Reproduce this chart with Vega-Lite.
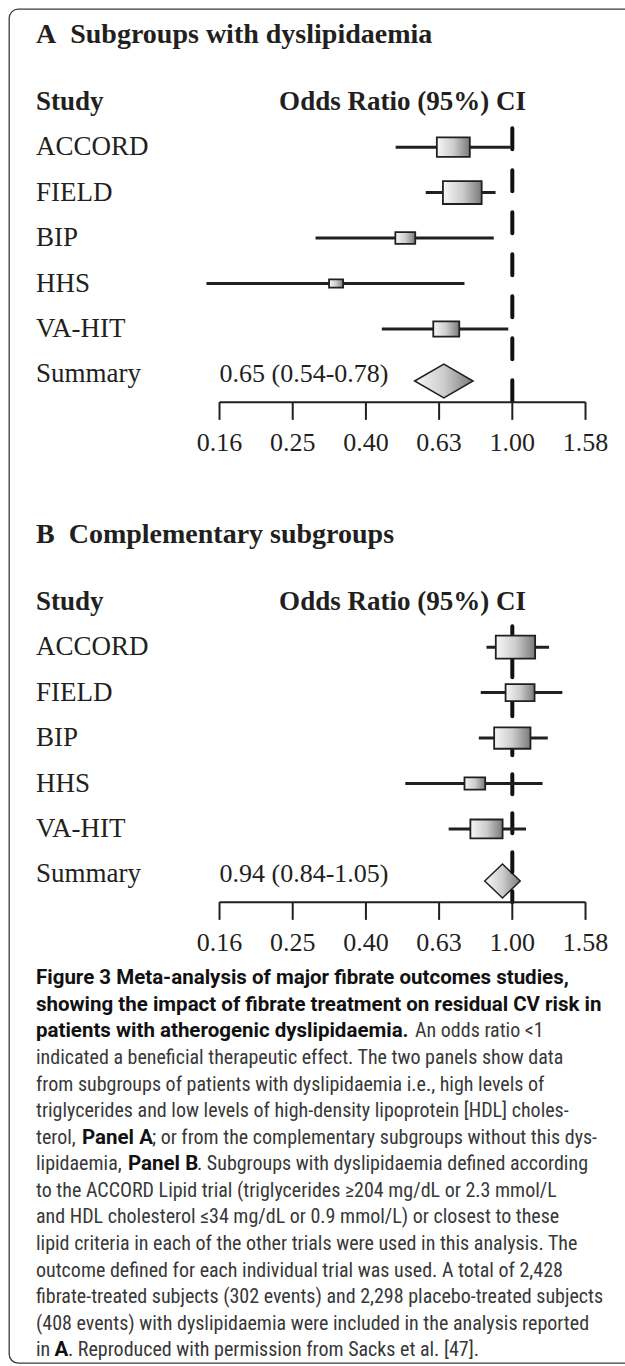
{
  "$schema": "https://vega.github.io/schema/vega-lite/v6.json",
  "width": 626,
  "height": 1354,
  "autosize": {"type": "none"},
  "padding": {"left": 9, "top": 9, "right": -10, "bottom": 3},
  "background": "white",
  "config": {
    "view": {"stroke": "#3a3a3a", "strokeWidth": 1.3, "cornerRadius": 9, "fill": "white"},
    "font": "Liberation Serif"
  },
  "datasets": {
    "forest": [
      {"panel": "A", "slot": "A-ACCORD", "study": "ACCORD", "or": 0.69, "lo": 0.48, "hi": 0.99, "weight": 66},
      {"panel": "A", "slot": "A-FIELD", "study": "FIELD", "or": 0.73, "lo": 0.58, "hi": 0.90, "weight": 91},
      {"panel": "A", "slot": "A-BIP", "study": "BIP", "or": 0.51, "lo": 0.29, "hi": 0.89, "weight": 24},
      {"panel": "A", "slot": "A-HHS", "study": "HHS", "or": 0.33, "lo": 0.146, "hi": 0.74, "weight": 12},
      {"panel": "A", "slot": "A-VA-HIT", "study": "VA-HIT", "or": 0.66, "lo": 0.44, "hi": 0.975, "weight": 41},
      {"panel": "A", "slot": "A-Summary", "study": "Summary", "or": 0.65, "lo": 0.54, "hi": 0.78, "summary": "0.65 (0.54-0.78)"},
      {"panel": "B", "slot": "B-ACCORD", "study": "ACCORD", "or": 1.02, "lo": 0.85, "hi": 1.26, "weight": 94},
      {"panel": "B", "slot": "B-FIELD", "study": "FIELD", "or": 1.05, "lo": 0.82, "hi": 1.37, "weight": 51},
      {"panel": "B", "slot": "B-BIP", "study": "BIP", "or": 1.0, "lo": 0.81, "hi": 1.25, "weight": 80},
      {"panel": "B", "slot": "B-HHS", "study": "HHS", "or": 0.79, "lo": 0.51, "hi": 1.21, "weight": 26},
      {"panel": "B", "slot": "B-VA-HIT", "study": "VA-HIT", "or": 0.85, "lo": 0.67, "hi": 1.09, "weight": 63},
      {"panel": "B", "slot": "B-Summary", "study": "Summary", "or": 0.94, "lo": 0.84, "hi": 1.05, "summary": "0.94 (0.84-1.05)"}
    ],
    "refs": [
      {"panel": "A", "ref": 1, "from": "A-ACCORD", "to": "A-axis"},
      {"panel": "B", "ref": 1, "from": "B-ACCORD", "to": "B-axis"}
    ],
    "heads": [
      {"panel": "A", "slot": "A-title", "role": "title", "text": "A\u00a0 Subgroups with dyslipidaemia"},
      {"panel": "A", "slot": "A-header", "role": "left", "text": "Study"},
      {"panel": "A", "slot": "A-header", "role": "center", "text": "Odds Ratio (95%) CI"},
      {"panel": "B", "slot": "B-title", "role": "title", "text": "B\u00a0 Complementary subgroups"},
      {"panel": "B", "slot": "B-header", "role": "left", "text": "Study"},
      {"panel": "B", "slot": "B-header", "role": "center", "text": "Odds Ratio (95%) CI"}
    ],
    "ticks": [
      {"panel": "A", "slot": "A-axis", "lab": "A-ticks", "v": 0.158489},
      {"panel": "A", "slot": "A-axis", "lab": "A-ticks", "v": 0.251189},
      {"panel": "A", "slot": "A-axis", "lab": "A-ticks", "v": 0.398107},
      {"panel": "A", "slot": "A-axis", "lab": "A-ticks", "v": 0.630957},
      {"panel": "A", "slot": "A-axis", "lab": "A-ticks", "v": 1.0},
      {"panel": "A", "slot": "A-axis", "lab": "A-ticks", "v": 1.584893},
      {"panel": "B", "slot": "B-axis", "lab": "B-ticks", "v": 0.158489},
      {"panel": "B", "slot": "B-axis", "lab": "B-ticks", "v": 0.251189},
      {"panel": "B", "slot": "B-axis", "lab": "B-ticks", "v": 0.398107},
      {"panel": "B", "slot": "B-axis", "lab": "B-ticks", "v": 0.630957},
      {"panel": "B", "slot": "B-axis", "lab": "B-ticks", "v": 1.0},
      {"panel": "B", "slot": "B-axis", "lab": "B-ticks", "v": 1.584893}
    ],
    "caption": [
      {"line": 1, "seg": 1, "w": "b", "text": "Figure 3 Meta-analysis of major fibrate outcomes studies,"},
      {"line": 2, "seg": 1, "w": "b", "text": "showing the impact of fibrate treatment on residual CV risk in"},
      {"line": 3, "seg": 1, "w": "b", "text": "patients with atherogenic dyslipidaemia."},
      {"line": 3, "seg": 2, "w": "n", "text": "An odds ratio <1"},
      {"line": 4, "seg": 1, "w": "n", "text": "indicated a beneficial therapeutic effect. The two panels show data"},
      {"line": 5, "seg": 1, "w": "n", "text": "from subgroups of patients with dyslipidaemia i.e., high levels of"},
      {"line": 6, "seg": 1, "w": "n", "text": "triglycerides and low levels of high-density lipoprotein [HDL] choles-"},
      {"line": 7, "seg": 1, "w": "n", "text": "terol,"},
      {"line": 7, "seg": 2, "w": "b", "text": "Panel A"},
      {"line": 7, "seg": 3, "w": "n", "text": "; or from the complementary subgroups without this dys-"},
      {"line": 8, "seg": 1, "w": "n", "text": "lipidaemia,"},
      {"line": 8, "seg": 2, "w": "b", "text": "Panel B"},
      {"line": 8, "seg": 3, "w": "n", "text": ". Subgroups with dyslipidaemia defined according"},
      {"line": 9, "seg": 1, "w": "n", "text": "to the ACCORD Lipid trial (triglycerides \u2265204 mg/dL or 2.3 mmol/L"},
      {"line": 10, "seg": 1, "w": "n", "text": "and HDL cholesterol \u226434 mg/dL or 0.9 mmol/L) or closest to these"},
      {"line": 11, "seg": 1, "w": "n", "text": "lipid criteria in each of the other trials were used in this analysis. The"},
      {"line": 12, "seg": 1, "w": "n", "text": "outcome defined for each individual trial was used. A total of 2,428"},
      {"line": 13, "seg": 1, "w": "n", "text": "fibrate-treated subjects (302 events) and 2,298 placebo-treated subjects"},
      {"line": 14, "seg": 1, "w": "n", "text": "(408 events) with dyslipidaemia were included in the analysis reported"},
      {"line": 15, "seg": 1, "w": "n", "text": "in"},
      {"line": 15, "seg": 2, "w": "b", "text": "A"},
      {"line": 15, "seg": 3, "w": "n", "text": ". Reproduced with permission from Sacks et al. [47]."}
    ]
  },
  "resolve": {"scale": {"y": "independent"}},
  "layer": [
    {
      "layer": [
        {
          "data": {"name": "forest"},
          "transform": [{"filter": "datum.panel == 'A' && isValid(datum.summary)"}],
          "mark": {"type": "point", "shape": "M-1,0L0,-0.582L1,0L0,0.582Z", "size": 3411, "filled": true, "opacity": 1,
            "fill": {"gradient": "linear", "x1": 0, "y1": 0, "x2": 1, "y2": 0, "stops": [{"offset": 0, "color": "#f7f7f7"}, {"offset": 0.5, "color": "#cdcdcd"}, {"offset": 1, "color": "#7a7a7a"}]},
            "stroke": "#231f20", "strokeWidth": 1.5},
          "encoding": {
            "x": {"field": "or", "type": "quantitative", "scale": {"type": "log", "domain": [0.04215, 2.1638], "nice": false, "zero": false}, "axis": null},
            "y": {"field": "slot", "type": "nominal", "bandPosition": 0.645, "axis": null,
              "scale": {"type": "band", "domain": ["A-title", "A-header", "A-ACCORD", "A-FIELD", "A-BIP", "A-HHS", "A-VA-HIT", "A-Summary", "A-axis", "A-ticks", "gap", "B-title", "B-header", "B-ACCORD", "B-FIELD", "B-BIP", "B-HHS", "B-VA-HIT", "B-Summary", "B-axis", "B-ticks"], "range": [24.5, 979.05], "paddingInner": 0, "paddingOuter": 0}}
          }
        },
        {
          "data": {"name": "forest"},
          "transform": [{"filter": "datum.panel == 'B' && isValid(datum.summary)"}],
          "mark": {"type": "point", "shape": "M-1,0L0,-0.958L1,0L0,0.958Z", "size": 1260, "filled": true, "opacity": 1,
            "fill": {"gradient": "linear", "x1": 0, "y1": 0, "x2": 1, "y2": 0, "stops": [{"offset": 0, "color": "#f7f7f7"}, {"offset": 0.5, "color": "#cdcdcd"}, {"offset": 1, "color": "#7a7a7a"}]},
            "stroke": "#231f20", "strokeWidth": 1.5},
          "encoding": {
            "x": {"field": "or", "type": "quantitative", "axis": null},
            "y": {"field": "slot", "type": "nominal", "bandPosition": 0.645, "axis": null}
          }
        },
        {
          "data": {"name": "refs"},
          "transform": [{"filter": "datum.panel == 'A'"}],
          "mark": {"type": "rule", "color": "#111111", "strokeWidth": 4, "strokeDash": [21, 21], "strokeDashOffset": 40, "strokeCap": "round"},
          "encoding": {
            "x": {"field": "ref", "type": "quantitative", "axis": null},
            "y": {"field": "from", "type": "nominal", "bandPosition": 0.04, "axis": null},
            "y2": {"field": "to", "bandPosition": 0.11}
          }
        },
        {
          "data": {"name": "refs"},
          "transform": [{"filter": "datum.panel == 'B'"}],
          "mark": {"type": "rule", "color": "#111111", "strokeWidth": 4, "strokeDash": [20, 19], "strokeDashOffset": 8, "strokeCap": "round"},
          "encoding": {
            "x": {"field": "ref", "type": "quantitative", "axis": null},
            "y": {"field": "from", "type": "nominal", "bandPosition": 0.04, "axis": null},
            "y2": {"field": "to", "bandPosition": 0.11}
          }
        },
        {
          "data": {"name": "forest"},
          "transform": [{"filter": "isValid(datum.weight)"}],
          "mark": {"type": "rule", "color": "#231f20", "strokeWidth": 3},
          "encoding": {
            "x": {"field": "lo", "type": "quantitative", "axis": null},
            "x2": {"field": "hi"},
            "y": {"field": "slot", "type": "nominal", "bandPosition": 0.5, "axis": null}
          }
        },
        {
          "data": {"name": "forest"},
          "transform": [{"filter": "isValid(datum.weight)"}],
          "mark": {"type": "point", "shape": "M-1.7,-1L1.7,-1L1.7,1L-1.7,1Z", "filled": true, "opacity": 1,
            "fill": {"gradient": "linear", "x1": 0, "y1": 0, "x2": 1, "y2": 0, "stops": [{"offset": 0, "color": "#f7f7f7"}, {"offset": 0.5, "color": "#cdcdcd"}, {"offset": 1, "color": "#7a7a7a"}]},
            "stroke": "#231f20", "strokeWidth": 1.8},
          "encoding": {
            "x": {"field": "or", "type": "quantitative", "axis": null},
            "y": {"field": "slot", "type": "nominal", "bandPosition": 0.5, "axis": null},
            "size": {"field": "weight", "type": "quantitative", "scale": {"domain": [0, 100], "range": [0, 570], "zero": true}, "legend": null}
          }
        },
        {
          "data": {"name": "forest"},
          "mark": {"type": "text", "align": "left", "baseline": "middle", "font": "Liberation Serif", "fontSize": 27, "color": "#231f20"},
          "encoding": {
            "x": {"datum": 0.04995, "type": "quantitative", "axis": null},
            "y": {"field": "slot", "type": "nominal", "bandPosition": 0.5, "axis": null},
            "text": {"field": "study"}
          }
        },
        {
          "data": {"name": "forest"},
          "transform": [{"filter": "isValid(datum.summary)"}],
          "mark": {"type": "text", "align": "left", "baseline": "middle", "font": "Liberation Serif", "fontSize": 26, "color": "#231f20"},
          "encoding": {
            "x": {"datum": 0.158489, "type": "quantitative", "axis": null},
            "y": {"field": "slot", "type": "nominal", "bandPosition": 0.5, "axis": null},
            "text": {"field": "summary"}
          }
        },
        {
          "data": {"name": "ticks"},
          "mark": {"type": "rule", "color": "#231f20", "strokeWidth": 2},
          "encoding": {
            "x": {"aggregate": "min", "field": "v", "type": "quantitative", "axis": null},
            "x2": {"aggregate": "max", "field": "v"},
            "y": {"field": "slot", "type": "nominal", "bandPosition": 0.11, "axis": null}
          }
        },
        {
          "data": {"name": "ticks"},
          "mark": {"type": "rule", "color": "#231f20", "strokeWidth": 2},
          "encoding": {
            "x": {"field": "v", "type": "quantitative", "axis": null},
            "y": {"field": "slot", "type": "nominal", "bandPosition": 0.11, "axis": null},
            "y2": {"field": "slot", "bandPosition": 0.5}
          }
        },
        {
          "data": {"name": "ticks"},
          "mark": {"type": "text", "align": "center", "baseline": "middle", "font": "Liberation Serif", "fontSize": 26, "color": "#231f20"},
          "encoding": {
            "x": {"field": "v", "type": "quantitative", "axis": null},
            "y": {"field": "lab", "type": "nominal", "bandPosition": 0, "axis": null},
            "text": {"field": "v", "type": "quantitative", "format": ".2f"}
          }
        },
        {
          "data": {"name": "heads"},
          "transform": [{"filter": "datum.role == 'title'"}],
          "mark": {"type": "text", "align": "left", "baseline": "middle", "font": "Liberation Serif", "fontSize": 28, "fontWeight": "bold", "color": "#231f20"},
          "encoding": {
            "x": {"datum": 0.04995, "type": "quantitative", "axis": null},
            "y": {"field": "slot", "type": "nominal", "bandPosition": 0.03, "axis": null},
            "text": {"field": "text"}
          }
        },
        {
          "data": {"name": "heads"},
          "transform": [{"filter": "datum.role == 'left'"}],
          "mark": {"type": "text", "align": "left", "baseline": "middle", "font": "Liberation Serif", "fontSize": 27, "fontWeight": "bold", "color": "#231f20"},
          "encoding": {
            "x": {"datum": 0.04995, "type": "quantitative", "axis": null},
            "y": {"field": "slot", "type": "nominal", "bandPosition": 0.5, "axis": null},
            "text": {"field": "text"}
          }
        },
        {
          "data": {"name": "heads"},
          "transform": [{"filter": "datum.role == 'center'"}],
          "mark": {"type": "text", "align": "center", "baseline": "middle", "font": "Liberation Serif", "fontSize": 27, "fontWeight": "bold", "color": "#231f20"},
          "encoding": {
            "x": {"datum": 0.501187, "type": "quantitative", "axis": null},
            "y": {"field": "slot", "type": "nominal", "bandPosition": 0.5, "axis": null},
            "text": {"field": "text"}
          }
        }
      ]
    },
    {
      "data": {"name": "caption"},
      "layer": [
        {
          "transform": [{"filter": "datum.w == 'n'"}],
          "mark": {"type": "text", "align": "left", "baseline": "middle", "font": "Roboto Condensed, Lato, sans-serif", "fontSize": 20, "color": "#383838",
            "dx": {"expr": "datum.seg == 1 ? 0 : datum.line == 3 ? 379 : datum.line == 7 ? 116 : datum.line == 8 ? 161 : datum.line == 15 ? 32 : 0"}},
          "encoding": {
            "x": {"datum": 0.04995, "type": "quantitative", "axis": null},
            "y": {"field": "line", "type": "ordinal", "axis": null,
              "scale": {"type": "band", "domain": [1, 2, 3, 4, 5, 6, 7, 8, 9, 10, 11, 12, 13, 14, 15], "range": [956, 1354.6], "paddingInner": 0, "paddingOuter": 0}},
            "text": {"field": "text"}
          }
        },
        {
          "transform": [{"filter": "datum.w == 'b'"}],
          "mark": {"type": "text", "align": "left", "baseline": "middle", "font": "Roboto, Lato, sans-serif", "fontSize": 20.5, "fontWeight": "bold", "color": "#111111",
            "dx": {"expr": "datum.seg == 1 ? 0 : datum.line == 7 ? 46 : datum.line == 8 ? 92 : datum.line == 15 ? 18.5 : 0"}},
          "encoding": {
            "x": {"datum": 0.04995, "type": "quantitative", "axis": null},
            "y": {"field": "line", "type": "ordinal", "axis": null},
            "text": {"field": "text"}
          }
        }
      ]
    }
  ]
}
